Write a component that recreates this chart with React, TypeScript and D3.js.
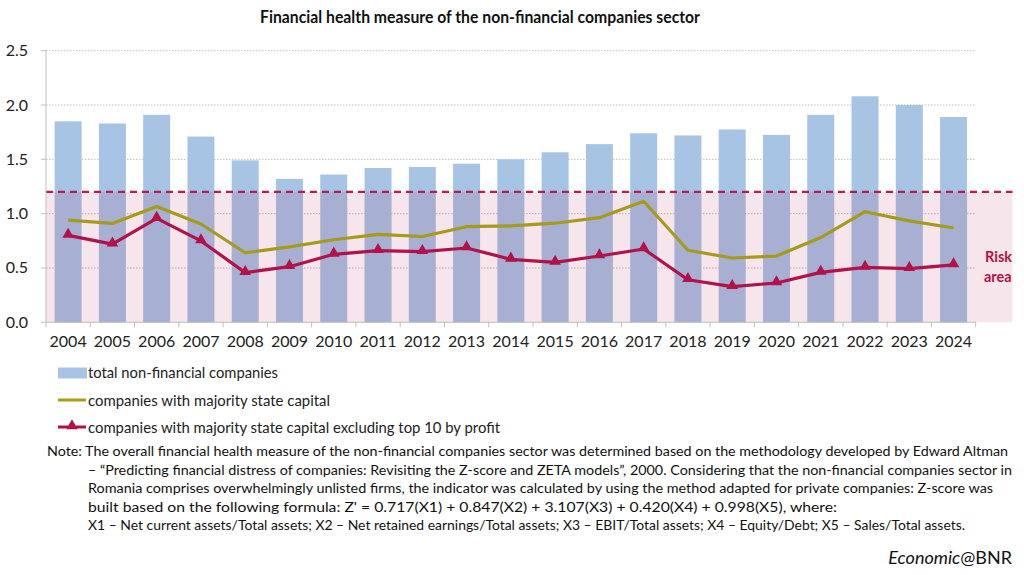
import React from "react";
import * as d3 from "d3";

const years = ["2004","2005","2006","2007","2008","2009","2010","2011","2012","2013","2014","2015","2016","2017","2018","2019","2020","2021","2022","2023","2024"];
const totalNonFinancial = [1.85,1.83,1.91,1.71,1.49,1.32,1.36,1.42,1.43,1.46,1.50,1.565,1.64,1.74,1.72,1.775,1.725,1.91,2.08,2.0,1.89];
const majorityState = [0.94,0.91,1.065,0.905,0.64,0.695,0.76,0.81,0.79,0.88,0.887,0.912,0.963,1.114,0.663,0.592,0.61,0.78,1.018,0.933,0.868];
const majorityStateExTop10 = [0.80,0.72,0.957,0.749,0.457,0.512,0.626,0.659,0.65,0.684,0.58,0.552,0.61,0.675,0.392,0.328,0.362,0.46,0.506,0.494,0.528];
const yTicks = [0, 0.5, 1.0, 1.5, 2.0, 2.5];
const riskThreshold = 1.2;

const title = "Financial health measure of the non-financial companies sector";
const legendLabels = [
  "total non-financial companies",
  "companies with majority state capital",
  "companies with majority state capital excluding top 10 by profit",
];
const noteLines = [
  "Note: The overall financial health measure of the non-financial companies sector was determined based on the methodology developed by Edward Altman",
  "\u2013 \u201cPredicting financial distress of companies: Revisiting the Z-score and ZETA models\u201d, 2000. Considering that the non-financial companies sector in",
  "Romania comprises overwhelmingly unlisted firms, the indicator was calculated by using the method adapted for private companies: Z-score was",
  "built based on the following formula: Z' = 0.717(X1) + 0.847(X2) + 3.107(X3) + 0.420(X4) + 0.998(X5), where:",
  "X1 \u2013 Net current assets/Total assets; X2 \u2013 Net retained earnings/Total assets; X3 \u2013 EBIT/Total assets; X4 \u2013 Equity/Debt; X5 \u2013 Sales/Total assets.",
];

const FONT = "Lato, 'Open Sans', sans-serif";
const BLUE = "#a7c4e4";
const GOLD = "#a59a1c";
const RED = "#b0124a";

export default function App() {
  const W = 1024, H = 575;
  const left = 46, right = 975.7, top = 50.7, bottom = 322.3;
  const x = d3.scaleBand<string>().domain(years).range([left, right]).paddingInner(0.39).paddingOuter(0.195);
  const y = d3.scaleLinear().domain([0, 2.5]).range([bottom, top]);
  const step = x.step();
  const cx = (d: string) => (x(d) as number) + x.bandwidth() / 2;

  const line = d3.line<number>().x((_, i) => cx(years[i])).y((v) => y(v));
  const tri = d3.symbol().type(d3.symbolTriangle).size(58);

  const noteWidths = [961, 924, 905, 749, 877];
  const noteX = [47, 88, 88, 88, 88];
  const noteY = [456, 474.5, 493, 511.5, 530];

  return (
    <svg width={W} height={H} style={{ position: "absolute", left: 0, top: 0, background: "#fff" }} fontFamily={FONT}>
      <rect x={0} y={0} width={W} height={H} fill="#fff" />
      <text x={480} y={22.5} textAnchor="middle" fontWeight="bold" fontSize={16.5} fill="#111" textLength={440} lengthAdjust="spacingAndGlyphs">{title}</text>

      {/* gridlines */}
      {yTicks.filter((t) => t > 0).map((t) => (
        <line key={t} x1={left} x2={right} y1={y(t)} y2={y(t)} stroke="#bdbdbd" strokeWidth={1} strokeDasharray="1.5,1.5" />
      ))}

      {/* bars */}
      {years.map((yr, i) => (
        <rect key={yr} x={x(yr)} y={y(totalNonFinancial[i])} width={x.bandwidth()} height={bottom - y(totalNonFinancial[i])} fill={BLUE} />
      ))}

      {/* risk area */}
      <rect x={left} y={y(riskThreshold)} width={1012.5 - left} height={bottom - y(riskThreshold)} fill="rgb(175,14,68)" fillOpacity={0.11} />
      <line x1={left} x2={1012.5} y1={y(riskThreshold)} y2={y(riskThreshold)} stroke="#b81c4c" strokeWidth={2.2} strokeDasharray="7,5" />
      <text x={985} y={262} fontWeight="bold" fontSize={14.5} fill={RED}>Risk</text>
      <text x={984} y={282} fontWeight="bold" fontSize={14.5} fill={RED}>area</text>

      {/* axes */}
      <line x1={left} x2={left} y1={top} y2={bottom} stroke="#bfbfbf" strokeWidth={1} />
      <line x1={left} x2={right} y1={bottom} y2={bottom} stroke="#bfbfbf" strokeWidth={1} />
      {d3.range(years.length + 1).map((i) => (
        <line key={i} x1={left + i * step} x2={left + i * step} y1={bottom} y2={bottom + 5} stroke="#bfbfbf" strokeWidth={1} />
      ))}
      {yTicks.map((t) => (
        <g key={t}>
          <line x1={left - 5} x2={left} y1={y(t)} y2={y(t)} stroke="#bfbfbf" strokeWidth={1} />
          <text x={28} y={y(t) + 5.5} textAnchor="end" fontSize={16} fill="#222">{t.toFixed(1)}</text>
        </g>
      ))}
      {years.map((yr) => (
        <text key={yr} x={cx(yr)} y={346.5} textAnchor="middle" fontSize={16} fill="#222">{yr}</text>
      ))}

      {/* lines */}
      <path d={line(majorityState) || ""} fill="none" stroke={GOLD} strokeWidth={3.2} strokeLinejoin="round" />
      <path d={line(majorityStateExTop10) || ""} fill="none" stroke={RED} strokeWidth={3.2} strokeLinejoin="round" />
      {majorityStateExTop10.map((v, i) => (
        <path key={i} d={tri() || ""} transform={`translate(${cx(years[i])},${y(v) - 1})`} fill={RED} />
      ))}

      {/* legend */}
      <rect x={58} y={367.5} width={29} height={11} fill={BLUE} />
      <text x={88} y={378} fontSize={16} fill="#222" textLength={190} lengthAdjust="spacingAndGlyphs">{legendLabels[0]}</text>
      <line x1={58} x2={86} y1={400} y2={400} stroke={GOLD} strokeWidth={3} />
      <text x={88} y={405.5} fontSize={16} fill="#222" textLength={242} lengthAdjust="spacingAndGlyphs">{legendLabels[1]}</text>
      <line x1={58} x2={86} y1={427} y2={427} stroke={RED} strokeWidth={3} />
      <path d={tri() || ""} transform={`translate(72,426)`} fill={RED} />
      <text x={88} y={432.5} fontSize={16} fill="#222" textLength={412} lengthAdjust="spacingAndGlyphs">{legendLabels[2]}</text>

      {/* note */}
      {noteLines.map((l, i) => (
        <text key={i} x={noteX[i]} y={noteY[i]} fontSize={13.5} fill="#111" textLength={noteWidths[i]} lengthAdjust="spacingAndGlyphs">{l}</text>
      ))}

      <text x={1012} y={564} textAnchor="end" fontSize={18} fill="#111">
        <tspan fontStyle="italic">Economic</tspan>@BNR
      </text>
    </svg>
  );
}
